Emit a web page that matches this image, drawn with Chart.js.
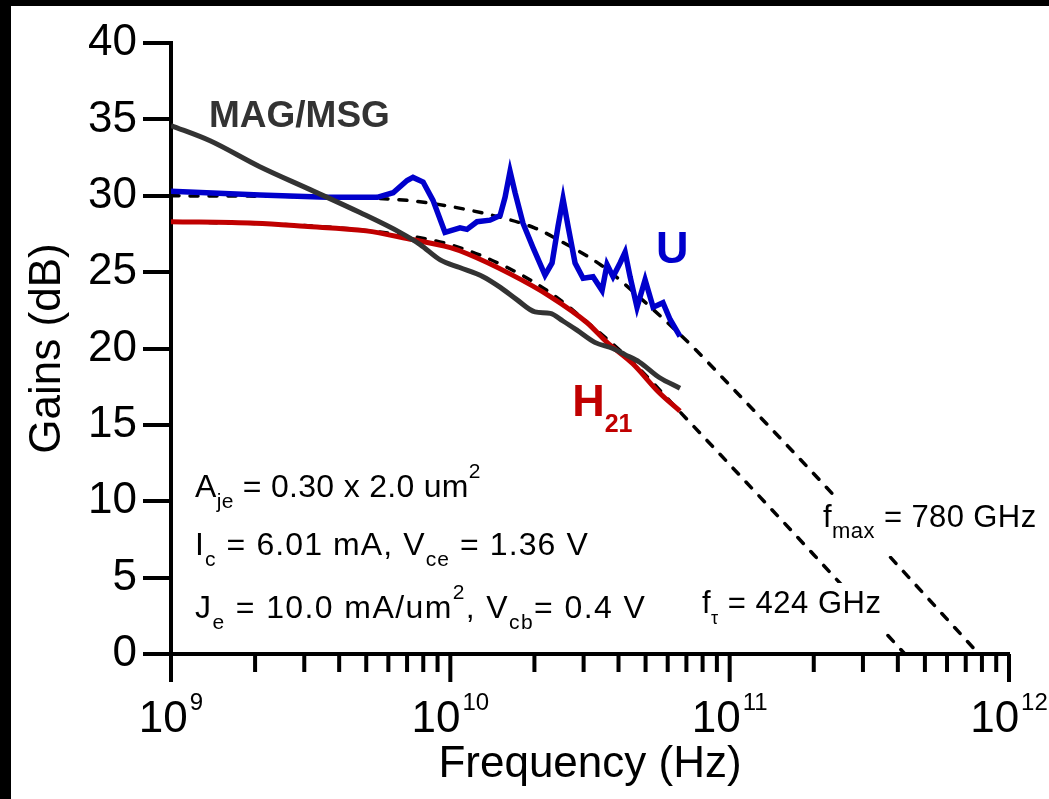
<!DOCTYPE html>
<html>
<head>
<meta charset="utf-8">
<title>Gains vs Frequency</title>
<script src="https://cdn.jsdelivr.net/npm/chart.js@4.4.0/dist/chart.umd.min.js"></script>
<style>
  html, body { margin: 0; padding: 0; background: #fff; }
  #wrap { position: relative; width: 1049px; height: 799px; background: #fff; }
  #chart { position: absolute; left: 0; top: 0; }
  .bar { position: absolute; background: #000; }
</style>
</head>
<body>
<div id="wrap">
  <canvas id="chart" width="1049" height="799"></canvas>
  <div class="bar" style="left:0;top:0;width:1049px;height:6px"></div>
  <div class="bar" style="left:0;top:0;width:11px;height:799px"></div>
</div>
<script>
// measured traces, frequency in GHz, gain in dB
const magFreq = [1.0, 1.38, 2.08, 3.15, 4.75, 6.6, 7.8, 9.2, 10.8, 13.1, 15.1, 17.3, 20.1, 22.8, 25.3, 28.4, 32.9, 38.2, 42.2, 47.6, 56.0, 66.4];
const magGain = [34.6, 33.6, 31.9, 30.4, 28.9, 27.6, 26.8, 25.8, 25.3, 24.7, 24.0, 23.2, 22.4, 22.3, 21.8, 21.2, 20.4, 20.0, 19.6, 19.1, 18.1, 17.4];

const h21Freq = [1.0, 2.0, 3.0, 5.0, 7.0, 10.0, 11.5, 16.3, 22.8, 30.8, 36.4, 45.0, 56.0, 66.4];
const h21Gain = [28.3, 28.2, 28.0, 27.7, 27.2, 26.6, 26.2, 24.9, 23.4, 21.7, 20.4, 19.0, 17.1, 15.9];

const uFreq = [1.0, 2.08, 3.62, 5.47, 6.24, 7.0, 7.35, 7.99, 8.67, 9.57, 10.83, 11.47, 12.46, 13.87, 15.07, 15.7, 16.36, 17.05, 18.2, 19.78,
               21.83, 23.13, 24.3, 25.32, 26.39, 27.96, 29.87, 32.43, 34.92, 36.39, 38.24, 40.52, 42.23, 44.0, 46.6, 49.8, 53.2, 57.7, 61.2, 66.4];
const uGain = [30.3, 30.05, 29.9, 29.9, 30.2, 31.0, 31.2, 30.9, 29.7, 27.6, 27.9, 27.8, 28.3, 28.4, 28.7, 29.9, 31.6, 30.2, 28.2, 26.6,
               24.8, 25.6, 28.0, 29.8, 28.0, 25.6, 24.6, 24.7, 23.8, 25.5, 24.7, 25.6, 26.3, 24.7, 22.7, 24.5, 22.7, 23.0, 21.9, 20.8];

// -20 dB/decade extrapolations
const fmaxFreq = [1, 4, 7, 10, 15, 20, 25, 35, 50, 72, 100, 200, 400, 780];
const fmaxGain = [30.0, 29.9, 29.7, 29.3, 28.6, 27.9, 27.0, 25.4, 23.0, 20.3, 17.6, 11.8, 5.8, 0];
const ftFreq = [1, 3, 6, 10, 16, 23, 31, 45, 66, 100, 200, 424];
const ftGain = [28.3, 28.05, 27.55, 26.8, 25.3, 23.6, 21.7, 19.1, 15.9, 12.4, 6.5, 0];

// axis ticks
const yTicks = [0, 5, 10, 15, 20, 25, 30, 35, 40];
const decades = [9, 10, 11, 12];
const minorSteps = [2, 3, 4, 5, 6, 7, 8, 9];

const FONT = '"Liberation Sans", Arial, sans-serif';
Chart.defaults.font.family = FONT;

function pts(freq, gain) {
  return freq.map((f, i) => ({ x: f * 1e9, y: gain[i] }));
}

// draws text runs with sub/superscripts
function richText(ctx, x, y, parts, size, weight, color, spacing) {
  ctx.fillStyle = color;
  ctx.textBaseline = 'alphabetic';
  ctx.textAlign = 'left';
  ctx.letterSpacing = (spacing || 0) + 'px';
  parts.forEach(([text, role, s]) => {
    let fs = size, dy = 0;
    if (role === 'sub') { fs = s || Math.round(size * 0.65); dy = size * 0.36; }
    if (role === 'sup') { fs = s || Math.round(size * 0.65); dy = -size * 0.6; }
    ctx.font = `${weight} ${fs}px ${FONT}`;
    ctx.fillText(text, x, y + dy);
    x += ctx.measureText(text).width;
  });
  ctx.letterSpacing = '0px';
  return x;
}

const annotate = {
  id: 'annotate',
  afterDatasetsDraw(chart) {
    const { ctx } = chart;
    const sx = chart.scales.x, sy = chart.scales.y;
    const px = (f) => sx.getPixelForValue(f);
    const py = (g) => sy.getPixelForValue(g);
    ctx.save();

    richText(ctx, px(1.368e9), py(34.5), [['MAG/MSG']], 37, 'bold', '#333333');
    richText(ctx, px(5.45e10), py(25.6), [['U']], 45, 'bold', '#0000cc');
    richText(ctx, px(2.73e10), py(15.6), [['H'], ['21', 'sub', 25]], 45, 'bold', '#c00000');

    const left = px(1.219e9);
    richText(ctx, left, py(10.28), [['A'], ['je', 'sub', 21], [' = 0.30 x 2.0 um'], ['2', 'sup', 21]], 32, 'normal', '#000', 0.3);
    richText(ctx, left, py(6.5), [['I'], ['c', 'sub', 21], [' = 6.01 mA, V'], ['ce', 'sub', 21], [' = 1.36 V']], 32, 'normal', '#000', 1.1);
    richText(ctx, left, py(2.36), [['J'], ['e', 'sub', 21], [' = 10.0 mA/um'], ['2', 'sup', 21], [', V'], ['cb', 'sub', 21], ['= 0.4 V']], 32, 'normal', '#000', 1.4);

    // cut-off labels sit on a white patch over the dashed lines
    ctx.fillStyle = '#fff';
    ctx.fillRect(px(2.1e11), py(10.28), 222, 59);
    ctx.fillRect(px(7.8e10), py(4.65), 186, 48);
    richText(ctx, px(2.16e11), py(8.31), [['f'], ['max', 'sub', 22], [' = 780 GHz']], 31, 'normal', '#000', 0.4);
    richText(ctx, px(7.96e10), py(2.68), [['f'], ['\u03c4', 'sub', 18], [' = 424 GHz']], 31, 'normal', '#000', 0.5);
    ctx.restore();
  },
  afterDraw(chart) {
    const { ctx } = chart;
    const sx = chart.scales.x;
    const top = sx.top;
    ctx.save();
    ctx.strokeStyle = '#000';
    ctx.lineWidth = 4;
    decades.forEach((d, i) => {
      const x = sx.getPixelForValue(Math.pow(10, d));
      ctx.beginPath();
      ctx.moveTo(x, top);
      ctx.lineTo(x, top + 28);
      ctx.stroke();
      if (i < decades.length - 1) {
        minorSteps.forEach((m) => {
          const xm = sx.getPixelForValue(m * Math.pow(10, d));
          ctx.beginPath();
          ctx.moveTo(xm, top);
          ctx.lineTo(xm, top + 18);
          ctx.stroke();
        });
      }
      // "10" with the exponent raised, centred on the tick
      ctx.font = `44px ${FONT}`;
      const wBase = ctx.measureText('10').width;
      ctx.font = `24px ${FONT}`;
      const wExp = ctx.measureText(String(d)).width;
      const x0 = x - (wBase + 2 + wExp) / 2;
      ctx.fillStyle = '#000';
      ctx.textAlign = 'left';
      ctx.textBaseline = 'alphabetic';
      ctx.font = `44px ${FONT}`;
      ctx.fillText('10', x0, top + 78);
      ctx.font = `24px ${FONT}`;
      ctx.fillText(String(d), x0 + wBase + 2, top + 56);
    });
    ctx.restore();
  }
};

const fitLine = { borderColor: '#000', borderWidth: 3.5, borderDash: [8, 11], borderCapStyle: 'round', cubicInterpolationMode: 'monotone' };

new Chart(document.getElementById('chart'), {
  type: 'line',
  data: {
    datasets: [
      { label: 'MAG/MSG', data: pts(magFreq, magGain), borderColor: '#333333', borderWidth: 5, cubicInterpolationMode: 'monotone' },
      { label: 'U', data: pts(uFreq, uGain), borderColor: '#0000cc', borderWidth: 5.5, tension: 0 },
      { label: 'H21', data: pts(h21Freq, h21Gain), borderColor: '#c00000', borderWidth: 5, cubicInterpolationMode: 'monotone' },
      Object.assign({ label: 'fmax fit', data: pts(fmaxFreq, fmaxGain) }, fitLine),
      Object.assign({ label: 'ft fit', data: pts(ftFreq, ftGain) }, fitLine)
    ]
  },
  options: {
    responsive: false,
    animation: false,
    layout: { padding: { left: 11, top: 43, right: 40, bottom: 0 } },
    elements: { point: { radius: 0 } },
    plugins: { legend: { display: false }, tooltip: { enabled: false } },
    scales: {
      x: {
        type: 'logarithmic',
        min: 1e9,
        max: 1e12,
        grid: { display: false },
        border: { display: true, color: '#000', width: 4 },
        ticks: { display: false },
        title: { display: true, text: 'Frequency (Hz)', color: '#000', font: { size: 44 }, padding: { top: 0, bottom: 8 } },
        afterFit(scale) { scale.height = 145; }
      },
      y: {
        min: 0,
        max: 40,
        afterBuildTicks(scale) { scale.ticks = yTicks.map((v) => ({ value: v })); },
        ticks: { color: '#000', font: { size: 44 }, padding: 6 },
        grid: { display: true, drawOnChartArea: false, drawTicks: true, tickLength: 28, lineWidth: 4, color: '#000' },
        border: { display: true, color: '#000', width: 4 },
        title: { display: true, text: 'Gains (dB)', color: '#000', font: { size: 44 }, padding: { top: 10, bottom: 0 } },
        afterFit(scale) { scale.width = 160; }
      }
    }
  },
  plugins: [annotate]
});
</script>
</body>
</html>
